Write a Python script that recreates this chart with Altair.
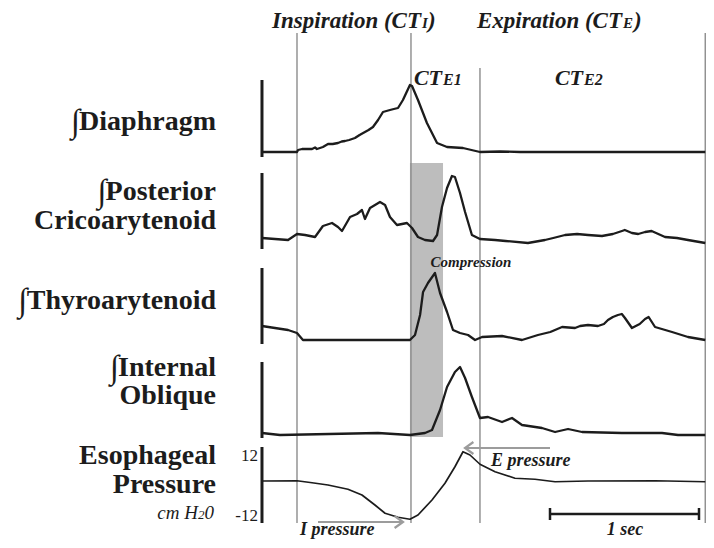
import altair as alt
import pandas as pd

# ---------------- data (time in s from inspiration onset) ----------------
diaph_t = [-0.235, 0.0, 0.007, 0.034, 0.101, 0.121, 0.134, 0.174, 0.208, 0.240, 0.275, 0.300,
           0.322, 0.350, 0.389, 0.420, 0.456, 0.480, 0.510, 0.544, 0.577, 0.600, 0.624, 0.650,
           0.678, 0.711, 0.758, 0.772, 0.812, 0.872, 0.940, 1.007, 1.114, 1.228, 1.362, 1.497,
           2.74]
diaph_v = [5, 5, 7, 8, 8, 9.5, 8, 10, 13, 13, 14, 15.5,
           16, 17, 19, 22, 25, 27, 30, 37, 45, 46, 47, 48,
           49, 57, 72, 71, 57, 34, 14, 10, 9, 5, 5.5, 5,
           5]

pca_t = [-0.235, -0.148, -0.060, 0.0, 0.054, 0.121, 0.174, 0.235, 0.275, 0.302, 0.356, 0.403,
         0.436, 0.456, 0.490, 0.557, 0.591, 0.624, 0.671, 0.705, 0.738, 0.772, 0.812, 0.859,
         0.913, 0.940, 0.973, 1.007, 1.040, 1.060, 1.094, 1.128, 1.174, 1.228, 1.329, 1.400,
         1.550, 1.664, 1.720, 1.799, 1.880, 1.953, 2.047, 2.120, 2.181, 2.200, 2.248, 2.290,
         2.336, 2.380, 2.470, 2.550, 2.624, 2.74]
pca_v = [11, 10, 9, 15, 14, 12, 23, 26, 22, 18, 32, 35,
         39, 30, 41, 47, 44, 32, 24, 25, 26, 21, 12, 9,
         8, 14, 42, 61, 73, 72, 56, 37, 14, 10, 9, 8,
         6, 9, 11, 14, 15, 14, 13, 15, 18, 19, 16, 15,
         17, 18, 12, 11, 9, 6]

ta_t = [-0.235, -0.148, -0.060, 0.0, 0.040, 0.758, 0.792, 0.826, 0.846, 0.879, 0.926, 0.960,
        1.007, 1.047, 1.094, 1.148, 1.195, 1.242, 1.376, 1.510, 1.617, 1.700, 1.779, 1.866,
        1.900, 1.953, 2.020, 2.060, 2.087, 2.120, 2.154, 2.180, 2.201, 2.248, 2.300, 2.336,
        2.360, 2.403, 2.517, 2.624, 2.74]
ta_v = [18, 16, 14, 11, 4, 4, 9, 29, 52, 61, 71, 51,
        32, 14, 11, 9, 4, 7, 8, 4, 9, 12, 17, 16,
        18, 19, 18, 20, 24, 27, 29, 30, 26, 16, 20, 25,
        27, 17, 12, 7, 4]

io_t = [-0.235, -0.114, 0.544, 0.758, 0.859, 0.906, 0.960, 1.007, 1.060, 1.094, 1.128, 1.174,
        1.228, 1.282, 1.376, 1.443, 1.510, 1.644, 1.732, 1.819, 1.913, 2.181, 2.450, 2.557, 2.74]
io_v = [5, 3, 5, 3, 5, 8, 28, 51, 66, 71, 60, 41,
        20, 21, 16, 20, 13, 10, 6, 9, 6, 5, 5, 3, 3]

eso_t = [-0.235, 0.0, 0.101, 0.208, 0.342, 0.436, 0.523, 0.591, 0.678, 0.758, 0.812, 0.906,
         0.993, 1.060, 1.114, 1.161, 1.228, 1.329, 1.463, 1.597, 1.732, 1.953, 2.403, 2.74]
eso_v = [1.6, 1.7, 0.9, 0.0, -1.7, -4.0, -8.0, -11.3, -12.9, -13.7, -12.0, -6.0,
         0.7, 7.3, 13.3, 12.0, 8.3, 5.3, 2.7, 2.3, 1.3, 1.6, 1.7, 1.3]
eso_ticks = ["12", "-12"]

phase_bounds = [0.0, 0.765, 2.74]
cte_split = [1.228]
compression = [0.758, 0.980]
one_sec = [1.698, 2.698]

row_labels = ["Diaphragm", "Posterior", "Cricoarytenoid", "Thyroarytenoid",
              "Internal", "Oblique", "Esophageal", "Pressure"]
integrated = [True, True, False, True, True, False, False, False]
INTEGRAL = "\u222b"

# ---------------- styling / layout ----------------
W, H = 698, 532
OFF = 8
xs = alt.Scale(domain=[-1.9396, 2.7450], nice=False, zero=False)
INK = "#1c1c1c"
LINEGRAY = "#8c8c8c"
ARROW = "#9c9c9c"
SERIF = "Liberation Serif"
LABEL_SIZE = 28
# Times-metric advance widths (em) of the bold label glyphs, for placing the tall integral sign
BOLD_W = {"D": .722, "i": .278, "a": .5, "p": .556, "h": .556, "r": .444, "g": .5, "m": .833,
          "P": .611, "o": .5, "s": .389, "t": .333, "e": .444, "T": .667, "y": .5, "n": .556,
          "d": .556, "I": .389, "l": .278}


def X(f):
    return alt.X(f, type="quantitative", scale=xs, axis=None)


def px(v):
    return alt.value(v - OFF)


def trace(t, v, dom, bottom, top, bar_lo, bar_hi, sw=2.3):
    df = pd.DataFrame({"t": t, "v": v})
    ys = alt.Scale(domain=dom, range=[bottom - OFF, top - OFF], nice=False, zero=False)
    line = alt.Chart(df).mark_line(color=INK, strokeWidth=sw, strokeJoin="round").encode(
        x=X("t"), y=alt.Y("v", type="quantitative", scale=ys, axis=None))
    bar = alt.Chart(pd.DataFrame({"t": [t[0]], "lo": [bar_lo], "hi": [bar_hi]})).mark_rule(
        color=INK, strokeWidth=3).encode(
        x=X("t"), y=alt.Y("lo", type="quantitative", scale=ys, axis=None), y2="hi")
    return alt.layer(line, bar)


def txt(s, x, y, size, weight="bold", style="normal", align="left", color=INK):
    return alt.Chart(pd.DataFrame({"s": [s]})).mark_text(
        align=align, baseline="alphabetic", font=SERIF, fontSize=size,
        fontWeight=weight, fontStyle=style, color=color).encode(
        x=px(x), y=px(y), text="s:N")


layers = []

# compression shading
layers.append(alt.Chart(pd.DataFrame({"a": [compression[0]], "b": [compression[1]]})).mark_rect(
    color="#bdbdbd").encode(x=X("a"), x2="b", y=px(163), y2=px(437)))

# phase boundaries
layers.append(alt.Chart(pd.DataFrame({"t": phase_bounds})).mark_rule(
    color=LINEGRAY, strokeWidth=1.4).encode(x=X("t"), y=px(33), y2=px(523)))
layers.append(alt.Chart(pd.DataFrame({"t": cte_split})).mark_rule(
    color=LINEGRAY, strokeWidth=1.4).encode(x=X("t"), y=px(68), y2=px(523)))

# traces
layers.append(trace(diaph_t, diaph_v, [0, 77], 157, 80, 0, 77))
layers.append(trace(pca_t, pca_v, [0, 76], 249, 173, 0, 76))
layers.append(trace(ta_t, ta_v, [0, 76], 344, 268, 0, 76))
layers.append(trace(io_t, io_v, [0, 76], 438, 362, 0, 76))
layers.append(trace(eso_t, eso_v, [-12, 12], 515, 455, -15.2, 15.2, sw=1.7))

# 1 sec scale bar
layers.append(alt.Chart(pd.DataFrame({"a": [one_sec[0]], "b": [one_sec[1]]})).mark_rule(
    color=INK, strokeWidth=2.5).encode(x=X("a"), x2="b", y=px(514)))
layers.append(alt.Chart(pd.DataFrame({"t": one_sec})).mark_rule(
    color=INK, strokeWidth=2.5).encode(x=X("t"), y=px(508), y2=px(520)))

# pressure arrows
layers.append(alt.Chart(pd.DataFrame({"a": [0]})).mark_rule(color=ARROW, strokeWidth=2).encode(
    x=px(467), x2=px(550), y=px(448)))
layers.append(alt.Chart(pd.DataFrame({"a": [0]})).mark_point(
    shape="M0.4,-1L-1,0L0.4,1", filled=False, size=144, strokeWidth=2.2, color=ARROW,
    opacity=1).encode(x=px(471), y=px(448)))
layers.append(alt.Chart(pd.DataFrame({"a": [0]})).mark_rule(color=ARROW, strokeWidth=2).encode(
    x=px(318), x2=px(401), y=px(522)))
layers.append(alt.Chart(pd.DataFrame({"a": [0]})).mark_point(
    shape="M-0.4,-1L1,0L-0.4,1", filled=False, size=144, strokeWidth=2.2, color=ARROW,
    opacity=1).encode(x=px(397), y=px(522)))

# header texts (small-cap subscripts set as separate, smaller pieces)
HB = 28
layers.append(txt("Inspiration (CT", 421, HB, 23, style="italic", align="right"))
layers.append(txt("I", 422, HB, 15, style="italic"))
layers.append(txt(")", 428, HB, 23, style="italic"))
layers.append(txt("Expiration (CT", 622, HB, 23, style="italic", align="right"))
layers.append(txt("E", 623, HB, 15, style="italic"))
layers.append(txt(")", 634, HB, 23, style="italic"))
layers.append(txt("CT", 442, 85, 22, style="italic", align="right"))
layers.append(txt("E1", 443, 85, 16, style="italic"))
layers.append(txt("CT", 583, 85, 22, style="italic", align="right"))
layers.append(txt("E2", 584, 85, 16, style="italic"))

# row labels (integral sign drawn taller, as in the reference)
RIGHT = 216
label_y = [130, 200, 229, 309, 376, 404, 464, 493]
for s, y, integ in zip(row_labels, label_y, integrated):
    layers.append(txt(s, RIGHT, y, LABEL_SIZE, align="right"))
    if integ:
        w = sum(BOLD_W.get(c, 0.5) for c in s) * LABEL_SIZE
        layers.append(txt(INTEGRAL, RIGHT - w + 1, y + 2, 33, weight="bold", align="right"))

# units: cm H20 with a small 2
layers.append(txt("0", 214, 519, 19, weight="normal", style="italic", align="right"))
layers.append(txt("2", 204.5, 519, 13, weight="normal", style="italic", align="right"))
layers.append(txt("cm H", 198, 519, 19, weight="normal", style="italic", align="right"))
layers.append(txt(eso_ticks[0], 258, 461, 17, weight="normal", align="right"))
layers.append(txt(eso_ticks[1], 258, 521, 17, weight="normal", align="right"))

# annotations
layers.append(txt("Compression", 471, 267, 15, style="italic", align="center"))
layers.append(txt("E pressure", 491, 466, 18, style="italic"))
layers.append(txt("I pressure", 300, 535, 18, style="italic"))
layers.append(txt("1 sec", 625, 535, 18, style="italic", align="center"))

chart = alt.layer(*layers).resolve_scale(y="independent").properties(
    width=W, height=H, padding=0, autosize=alt.AutoSizeParams(type="none"),
    background="white").configure_view(stroke=None)

chart.save("out.html", embed_options={"renderer": "svg", "actions": False})
